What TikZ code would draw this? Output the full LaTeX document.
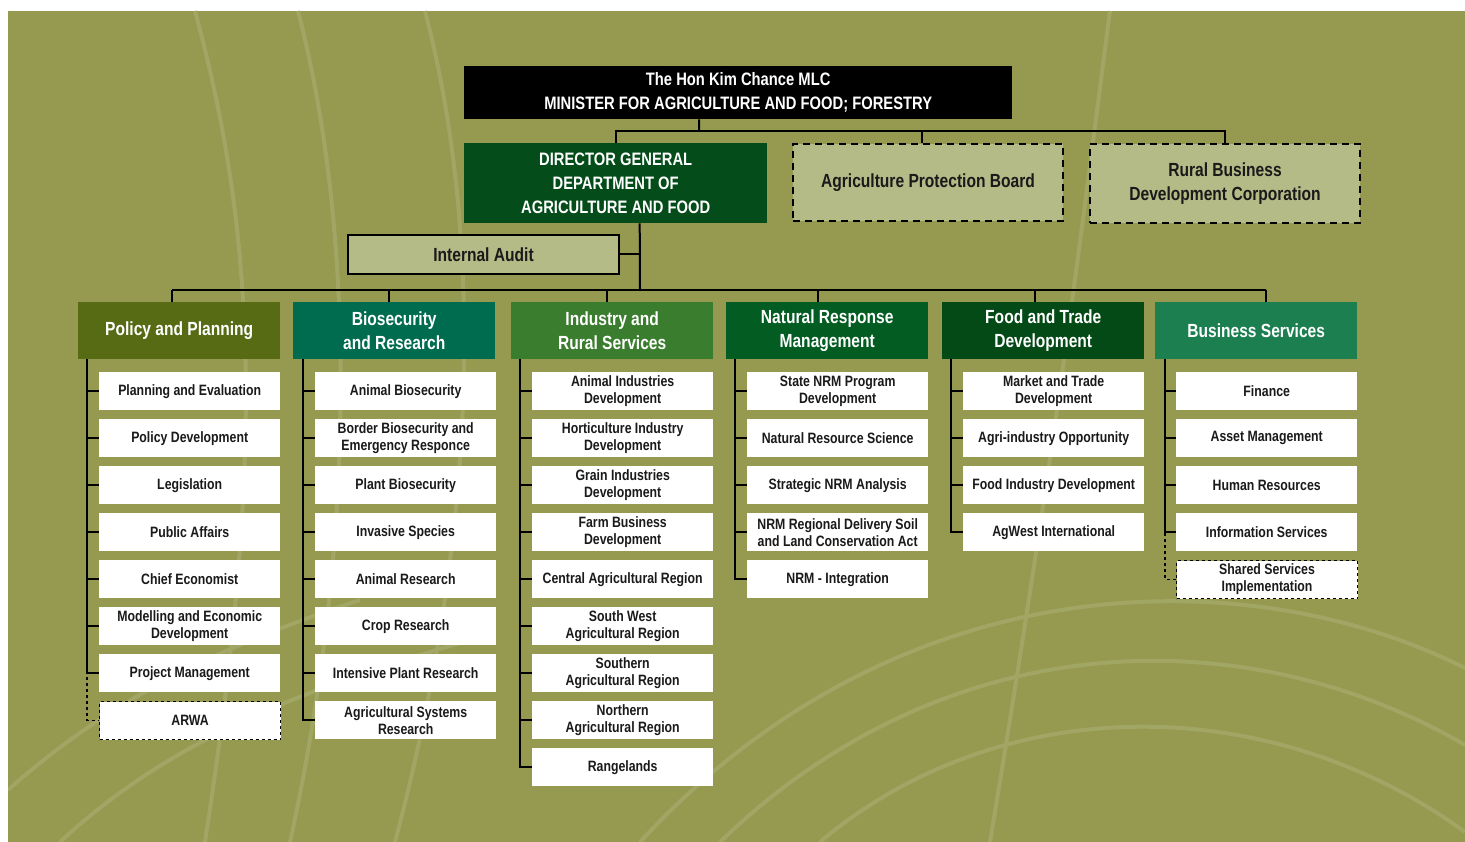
\documentclass[tikz,border=0pt]{standalone}
\usepackage{fontspec}
\setmainfont{Liberation Sans}[FakeStretch=0.82]
\usetikzlibrary{positioning}

\definecolor{olivebg}{RGB}{149,154,80}
\definecolor{swirlc}{RGB}{161,166,100}
\definecolor{paleolive}{RGB}{181,187,135}
\definecolor{dgreen}{RGB}{4,77,26}
\definecolor{ppcol}{RGB}{86,107,20}
\definecolor{brcol}{RGB}{0,108,79}
\definecolor{irscol}{RGB}{59,125,46}
\definecolor{nrmcol}{RGB}{3,92,34}
\definecolor{ftdcol}{RGB}{3,74,22}
\definecolor{bscol}{RGB}{27,127,80}
\definecolor{inkc}{RGB}{26,26,26}

\tikzset{
  head/.style={anchor=north west, minimum width=202pt, minimum height=57pt,
    text=white, font=\fontsize{19}{24}\selectfont\bfseries},
  unit/.style={anchor=north west, fill=white, minimum width=181pt, minimum height=38pt,
    text=inkc, font=\fontsize{15}{17}\selectfont\bfseries},
  spare/.style={unit, draw=black, dashed, line width=1.1pt},
  board/.style={anchor=north west, fill=paleolive, draw=black, line width=2pt,
    dash pattern=on 7pt off 5pt, text=inkc, font=\fontsize{19}{24}\selectfont\bfseries},
  link/.style={line width=2pt},
  dlink/.style={line width=1.1pt, dashed},
  swirl/.style={swirlc, line width=4pt}
}

\begin{document}
\begin{tikzpicture}[x=1pt, y=-1pt,
    every node/.append style={align=center, inner sep=0pt}]
  % backdrop
  \fill[white] (0,0) rectangle (1465,842);
  \fill[olivebg] (8,11) rectangle (1465,842);
  \begin{scope}
    \clip (8,11) rectangle (1465,842);
    \draw[swirl] (195,11) .. controls (260,250) and (262,470) .. (205,842);
    \draw[swirl] (298,11) .. controls (360,250) and (352,560) .. (290,842);
    \draw[swirl] (425,11) .. controls (490,260) and (470,560) .. (395,842);
    \draw[swirl] (8,790) .. controls (120,690) and (240,640) .. (360,600);
    \draw[swirl] (60,842) .. controls (170,740) and (300,690) .. (470,640);
    \draw[swirl] (640,842) .. controls (900,560) and (1250,560) .. (1465,668);
    \draw[swirl] (720,842) .. controls (950,620) and (1250,620) .. (1465,745);
    \draw[swirl] (820,842) .. controls (1000,690) and (1270,690) .. (1465,832);
    \draw[swirl] (1110,11) .. controls (1085,200) and (1060,420) .. (990,842);
  \end{scope}

  % top of the chart
  \node[anchor=north west, fill=black, minimum width=548pt, minimum height=53pt,
    text=white, font=\fontsize{18}{24}\selectfont\bfseries] (minister) at (464,66)
    {The Hon Kim Chance MLC\\MINISTER FOR AGRICULTURE AND FOOD; FORESTRY};
  \node[anchor=north west, fill=dgreen, minimum width=303pt, minimum height=80pt,
    text=white, font=\fontsize{18}{24}\selectfont\bfseries] (dg) at (464,143)
    {DIRECTOR GENERAL\\DEPARTMENT OF\\AGRICULTURE AND FOOD};
  \node[board, minimum width=270pt, minimum height=77pt] (apb) at (792,143)
    {Agriculture Protection Board};
  \node[board, minimum width=270pt, minimum height=79pt] (rbdc) at (1089,143)
    {Rural Business\\Development Corporation};
  \node[anchor=north west, fill=paleolive, draw=black, line width=2pt,
    minimum width=271pt, minimum height=39pt, text=inkc,
    font=\fontsize{19}{24}\selectfont\bfseries] (audit) at (347,234) {Internal Audit};

  \coordinate (mbus) at (699,131);
  \coordinate (hbus) at (640,290);
  \draw[link] ([xshift=-39pt]minister.south) -- (mbus);
  \draw[link] (dg.north) |- (rbdc.north |- mbus) -- (rbdc.north);
  \draw[link] ([xshift=-6pt]apb.north) -- ([xshift=-6pt]apb.north |- mbus);
  \draw[link] ([xshift=24pt]dg.south) -- (hbus);
  \draw[link] (audit.east) -- (audit.east -| hbus);

  % divisions
  \node[head, fill=ppcol] (pp) at (78,302) {Policy and Planning};
  \node[head, fill=brcol] (br) at (293,302) {Biosecurity\\and Research};
  \node[head, fill=irscol] (irs) at (511,302) {Industry and\\Rural Services};
  \node[head, fill=nrmcol] (nrm) at (726,302) {Natural Response\\Management};
  \node[head, fill=ftdcol] (ftd) at (942,302) {Food and Trade\\Development};
  \node[head, fill=bscol] (bs) at (1155,302) {Business Services};

  \draw[link] ([xshift=-7pt]pp.north |- hbus) -- ([xshift=10pt]bs.north |- hbus);
  \draw[link] ([xshift=-7pt]pp.north) -- ([xshift=-7pt]pp.north |- hbus);
  \draw[link] ([xshift=-5pt]br.north) -- ([xshift=-5pt]br.north |- hbus);
  \draw[link] ([xshift=-5pt]irs.north) -- ([xshift=-5pt]irs.north |- hbus);
  \draw[link] ([xshift=-9pt]nrm.north) -- ([xshift=-9pt]nrm.north |- hbus);
  \draw[link] ([xshift=-8pt]ftd.north) -- ([xshift=-8pt]ftd.north |- hbus);
  \draw[link] ([xshift=10pt]bs.north) -- ([xshift=10pt]bs.north |- hbus);

  % units
  \foreach \txt [count=\i] in {Planning and Evaluation, Policy Development,
      Legislation, Public Affairs, Chief Economist,
      {Modelling and Economic\\Development}, Project Management}
    \node[unit] (pp\i) at (99,{372+47*(\i-1)}) {\txt};
  \node[spare] (arwa) at (99,701) {ARWA};

  \foreach \txt [count=\i] in {Animal Biosecurity,
      {Border Biosecurity and\\Emergency Responce}, Plant Biosecurity,
      Invasive Species, Animal Research, Crop Research,
      Intensive Plant Research, {Agricultural Systems\\Research}}
    \node[unit] (br\i) at (315,{372+47*(\i-1)}) {\txt};

  \foreach \txt [count=\i] in {{Animal Industries\\Development},
      {Horticulture Industry\\Development}, {Grain Industries\\Development},
      {Farm Business\\Development}, Central Agricultural Region,
      {South West\\Agricultural Region}, {Southern\\Agricultural Region},
      {Northern\\Agricultural Region}, Rangelands}
    \node[unit] (irs\i) at (532,{372+47*(\i-1)}) {\txt};

  \foreach \txt [count=\i] in {{State NRM Program\\Development},
      Natural Resource Science, Strategic NRM Analysis,
      {NRM Regional Delivery Soil\\and Land Conservation Act}, NRM - Integration}
    \node[unit] (nrm\i) at (747,{372+47*(\i-1)}) {\txt};

  \foreach \txt [count=\i] in {{Market and Trade\\Development},
      Agri-industry Opportunity, Food Industry Development, AgWest International}
    \node[unit] (ftd\i) at (963,{372+47*(\i-1)}) {\txt};

  \foreach \txt [count=\i] in {Finance, Asset Management, Human Resources,
      Information Services}
    \node[unit] (bs\i) at (1176,{372+47*(\i-1)}) {\txt};
  \node[spare] (ssi) at (1176,560) {Shared Services\\Implementation};

  % spines
  \draw[dlink] ([xshift=9pt]pp.south west) |- (arwa.west);
  \draw[dlink] ([xshift=10pt]bs.south west) |- (ssi.west);
  \foreach \i in {1,...,7}
    \draw[link] ([xshift=9pt]pp.south west) |- (pp\i.west);
  \foreach \i in {1,...,8}
    \draw[link] ([xshift=10pt]br.south west) |- (br\i.west);
  \foreach \i in {1,...,9}
    \draw[link] ([xshift=9pt]irs.south west) |- (irs\i.west);
  \foreach \i in {1,...,5}
    \draw[link] ([xshift=9pt]nrm.south west) |- (nrm\i.west);
  \foreach \i in {1,...,4}
    \draw[link] ([xshift=9pt]ftd.south west) |- (ftd\i.west);
  \foreach \i in {1,...,4}
    \draw[link] ([xshift=10pt]bs.south west) |- (bs\i.west);
\end{tikzpicture}
\end{document}
